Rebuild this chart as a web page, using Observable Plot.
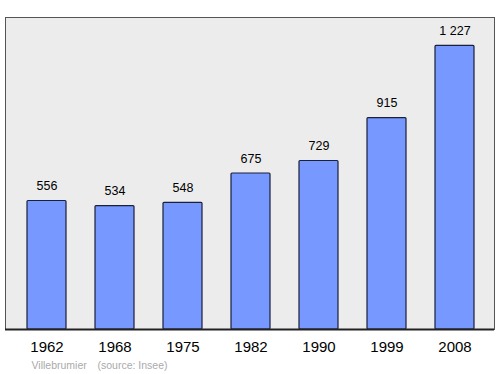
<!DOCTYPE html>
<html>
<head>
<meta charset="utf-8">
<script src="https://cdn.jsdelivr.net/npm/d3@7"></script>
<script src="https://cdn.jsdelivr.net/npm/@observablehq/plot@0.6"></script>
<style>
  html, body { margin: 0; padding: 0; background: #fff; }
  #chart svg { display: block; }
</style>
</head>
<body>
<div id="chart"></div>
<script>
const years = ["1962", "1968", "1975", "1982", "1990", "1999", "2008"];
const population = [556, 534, 548, 675, 729, 915, 1227];
const valueLabels = ["556", "534", "548", "675", "729", "915", "1 227"];
const commune = "Villebrumier";
const source = "(source: Insee)";

const data = years.map((y, i) => ({year: y, pop: population[i], label: valueLabels[i]}));

const chart = Plot.plot({
  width: 500,
  height: 374,
  marginLeft: 5,
  marginRight: 6,
  marginTop: 17,
  marginBottom: 45,
  style: {fontFamily: "Liberation Sans, Arial, sans-serif", background: "#fff"},
  x: {domain: years, paddingInner: 0.42, paddingOuter: 0.21, insetLeft: 6, insetRight: 4, label: null},
  y: {domain: [0, 1350], axis: null},
  marks: [
    Plot.frame({fill: "#ececec", stroke: "#555", strokeWidth: 1}),
    Plot.barY(data, {x: "year", y: "pop", fill: "#7799ff", stroke: "#1a1f3a", strokeWidth: 1.2, rx: 1}),
    Plot.text(data, {x: "year", y: "pop", text: "label", dy: -15, fontSize: 12.5, fill: "#000"}),
    Plot.ruleY([0], {stroke: "#222", strokeWidth: 2}),
    Plot.ruleX([0], {frameAnchor: "left"}),
    Plot.axisX({tickSize: 0, tickPadding: 12, fontSize: 15, fill: "#000", label: null}),
    Plot.text([commune], {frameAnchor: "bottom-left", dx: 26, dy: 39, textAnchor: "start", fontSize: 10.5, fill: "#aaa"}),
    Plot.text([source], {frameAnchor: "bottom-left", dx: 92, dy: 39, textAnchor: "start", fontSize: 10.5, fill: "#aaa"})
  ]
});
document.getElementById("chart").appendChild(chart);
</script>
</body>
</html>
